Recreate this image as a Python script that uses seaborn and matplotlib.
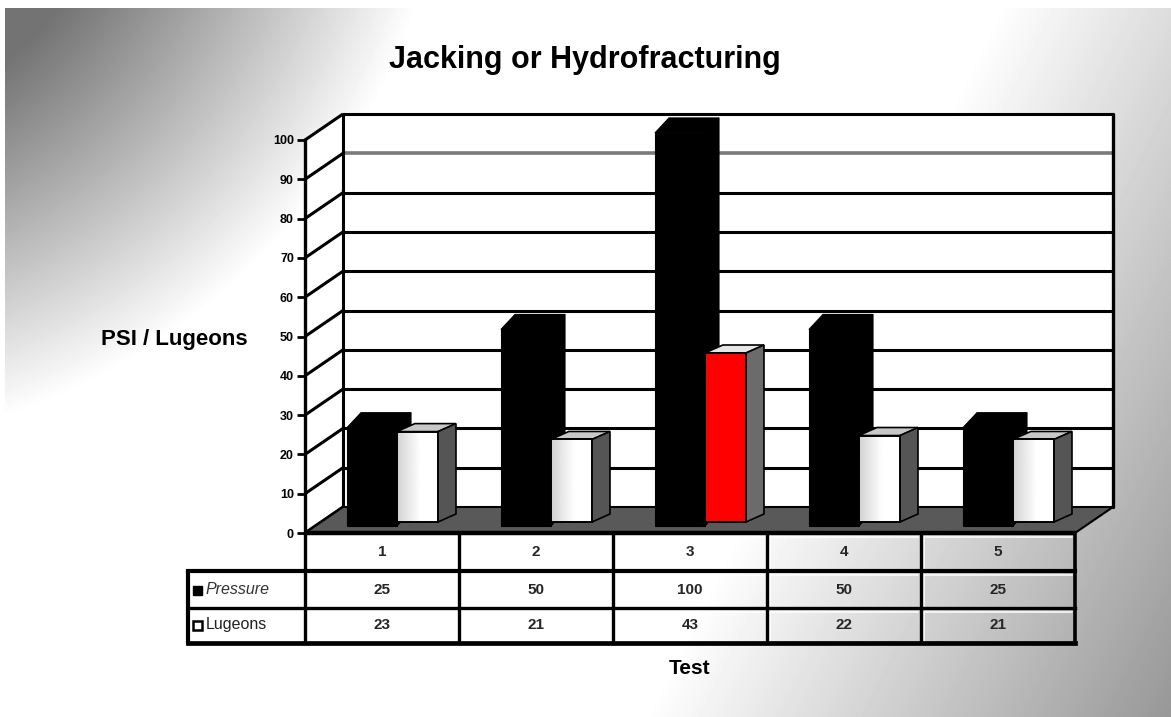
import numpy as np
import matplotlib
matplotlib.use("Agg")
import matplotlib.pyplot as plt
from matplotlib.patches import Polygon, Rectangle
import seaborn as sns

# ---- data -------------------------------------------------------------
categories = ["1", "2", "3", "4", "5"]
pressure = [25, 50, 100, 50, 25]
lugeons = [23, 21, 43, 22, 21]
series_names = ["Pressure", "Lugeons"]
y_ticks = [0, 10, 20, 30, 40, 50, 60, 70, 80, 90, 100]
title_text = "Jacking or Hydrofracturing"
y_label = "PSI / Lugeons"
x_label = "Test"

# ---- canvas -----------------------------------------------------------
W, H, DPI = 1171, 717, 100
sns.set_style("white")
plt.rcParams["font.family"] = ["Liberation Sans", "DejaVu Sans"]

fig = plt.figure(figsize=(W / DPI, H / DPI), dpi=DPI)

# grey sheen: dark toward the upper-left corner and the right edge, white between
bg = fig.add_axes([0, 0, 1, 1], zorder=-10)
yy, xx = np.mgrid[0:H, 0:W].astype(float)
d_tl = np.hypot(xx + 200, yy + 200)
s_tl = np.clip((650 - d_tl) / 320, 0, 1)
shade_tl = 1 - 0.55 * s_tl
u_r = xx + 0.5 * yy
shade_r = np.clip(1 - 0.00077 * np.clip(u_r - 1000, 0, None), 0.55, 1)
shade = np.minimum(shade_tl, shade_r)
shade[:8, :] = 1
shade[:, :5] = 1
bg.imshow(shade, cmap="gray", vmin=0, vmax=1, extent=(0, W, H, 0),
          aspect="auto", interpolation="bilinear")
bg.set_xlim(0, W)
bg.set_ylim(H, 0)
bg.axis("off")

# ---- plot frame (front plane of the 3-D box) ---------------------------
AX_L, AX_R, AX_T, AX_B = 305, 1075, 140, 533
PX_X = (AX_R - AX_L) / len(categories)   # pixels per category
PX_Y = (AX_B - AX_T) / 100.0             # pixels per value unit
ax = fig.add_axes([AX_L / W, 1 - AX_B / H, (AX_R - AX_L) / W, (AX_B - AX_T) / H])
ax.set_facecolor("none")

DX = 38 / PX_X   # depth offset of the back wall
DY = 26 / PX_Y
x0, x1 = -0.5, len(categories) - 0.5

# walls
ax.add_patch(Polygon([(x0 + DX, DY), (x1 + DX, DY), (x1 + DX, 100 + DY), (x0 + DX, 100 + DY)],
                     closed=True, fc="white", ec="none", zorder=0.2, clip_on=False))
ax.add_patch(Polygon([(x0, 0), (x0 + DX, DY), (x0 + DX, 100 + DY), (x0, 100)],
                     closed=True, fc="white", ec="none", zorder=0.2, clip_on=False))

# gridlines on the back wall and slanted ticks on the side wall
for v in y_ticks:
    ax.plot([x0, x0 + DX], [v, v + DY], color="black", lw=2.2, zorder=0.6,
            clip_on=False, solid_capstyle="butt")
    if v > 0:
        ax.plot([x0 + DX, x1 + DX], [v + DY, v + DY],
                color="#7a7a7a" if v == 90 else "black",
                lw=2.6 if v == 90 else 2.2, zorder=0.5, clip_on=False,
                solid_capstyle="butt")
ax.plot([x0 + DX, x0 + DX], [DY, 100 + DY], color="black", lw=2.2, zorder=0.6, clip_on=False)
ax.plot([x1 + DX, x1 + DX], [DY, 100 + DY], color="black", lw=2.4, zorder=0.6, clip_on=False)

# floor
ax.add_patch(Polygon([(x0, 0), (x1, 0), (x1 + DX, DY), (x0 + DX, DY)], closed=True,
                     fc="#595959", ec="black", lw=1.5, zorder=0.8, clip_on=False))
ax.plot([x0, x1], [0, 0], color="black", lw=3.2, zorder=6, clip_on=False,
        solid_capstyle="butt")


def add_depth(patch, dx, dy, top_c, side_c, z, lw=1.2):
    xa, w = patch.get_x(), patch.get_width()
    yb, h = patch.get_y(), patch.get_height()
    xb, yt = xa + w, yb + h
    ax.add_patch(Polygon([(xa, yt), (xa + dx, yt + dy), (xb + dx, yt + dy), (xb, yt)],
                         closed=True, fc=top_c, ec="black", lw=lw, zorder=z, clip_on=False))
    ax.add_patch(Polygon([(xb, yb), (xb + dx, yb + dy), (xb + dx, yt + dy), (xb, yt)],
                         closed=True, fc=side_c, ec="black", lw=lw, zorder=z, clip_on=False))


# Pressure columns (solid black)
n0 = len(ax.patches)
sns.barplot(x=categories, y=pressure, color="black", saturation=1, width=0.325,
            errorbar=None, ax=ax, zorder=3, edgecolor="black", linewidth=0.8)
p_bars = ax.patches[n0:]
for p in p_bars:
    p.set_x(p.get_x() - 0.065)
    p.set_y(1.8)
    p.set_edgecolor("black")
    p.set_clip_on(False)
    add_depth(p, 14 / PX_X, 15 / PX_Y, "black", "black", 2.9, lw=0.8)

# Lugeons columns (pale boxes, test 3 highlighted in red)
n1 = len(ax.patches)
sns.barplot(x=categories, y=lugeons, color="white", saturation=1, width=0.267,
            errorbar=None, ax=ax, zorder=4, edgecolor="black", linewidth=1.4)
l_bars = [p for p in ax.patches[n1:] if isinstance(p, Rectangle)]
ramp = np.linspace(0.72, 1.0, 40) ** 0.6
ramp = np.clip(np.concatenate([ramp, np.ones(30)]), 0, 1)[None, :]
for i, p in enumerate(l_bars):
    p.set_x(p.get_x() + 0.23)
    p.set_y(2.8)
    p.set_edgecolor("black")
    p.set_linewidth(1.4)
    p.set_clip_on(False)
    xa, w, yb, h = p.get_x(), p.get_width(), p.get_y(), p.get_height()
    if i == 2:
        p.set_facecolor("#ff0000")
        add_depth(p, 18 / PX_X, 8 / PX_Y, "#e6e6e6", "#6b6b6b", 3.9)
    else:
        im = ax.imshow(ramp, cmap="gray", vmin=0, vmax=1, aspect="auto",
                       extent=(xa, xa + w, yb, yb + h), zorder=4.05,
                       interpolation="bilinear")
        im.set_clip_path(p)
        ax.add_patch(Rectangle((xa, yb), w, h, fill=False, ec="black", lw=1.4,
                               zorder=4.1, clip_on=False))
        add_depth(p, 18 / PX_X, 8 / PX_Y, "#c8c8c8", "#555555", 3.9)

ax.set_xlim(x0, x1)
ax.set_ylim(0, 100)
ax.set_xlabel("")
ax.set_yticks(y_ticks)
ax.set_yticklabels([str(v) for v in y_ticks], fontweight="bold", fontsize=9)
ax.tick_params(axis="y", length=6, width=2, pad=2, direction="out", colors="black",
               left=True)
ax.tick_params(axis="x", length=0, labelbottom=False)
for s in ["top", "right", "bottom"]:
    ax.spines[s].set_visible(False)
ax.spines["left"].set_visible(True)
ax.spines["left"].set_color("black")
ax.spines["left"].set_linewidth(2.4)
ax.spines["left"].set_bounds(0, 100)
ax.set_ylabel(y_label, rotation=0, fontsize=16, fontweight="bold", ha="right",
              va="center", color="black")
ax.yaxis.set_label_coords((248 - AX_L) / (AX_R - AX_L), (AX_B - 340) / (AX_B - AX_T))

fig.text(585 / W, 1 - 60 / H, title_text, ha="center", va="center",
         fontsize=22, fontweight="bold", color="black")

# ---- data table under the plot ----------------------------------------
T_BOT = 645
axt = fig.add_axes([AX_L / W, 1 - T_BOT / H, (AX_R - AX_L) / W, (T_BOT - AX_B) / H])
axt.set_facecolor("none")
axt.set_xlim(x0, x1)
axt.set_ylim(T_BOT, AX_B)   # rows measured in pixels from the top
axt.set_xticks([])
axt.set_yticks([])
for s in axt.spines.values():
    s.set_visible(False)


def col(px):
    return x0 + (px - AX_L) / PX_X


xl = col(188)
row_cat, row_p, row_l = 552, 590, 625
# cell highlights
for i in range(len(categories)):
    for top, bot in [(536, 569), (574, 606), (611, 641)]:
        axt.plot([i - 0.5 + 0.02, i + 0.5 - 0.02], [top + 1, top + 1], color="white",
                 lw=1.2, alpha=0.9, zorder=1)
        axt.plot([i - 0.5 + 0.02, i - 0.5 + 0.02], [top + 1, bot], color="white",
                 lw=1.2, alpha=0.9, zorder=1)
# rules
for yv, lw in [(571, 3.0), (608, 2.4), (643, 3.4)]:
    axt.plot([xl, x1], [yv, yv], color="black", lw=lw, clip_on=False, zorder=3,
             solid_capstyle="projecting")
axt.plot([xl, xl], [571, 643], color="black", lw=3.0, clip_on=False, zorder=3)
axt.plot([x0, x0], [AX_B, 643], color="black", lw=2.4, clip_on=False, zorder=3)
for i in range(len(categories) - 1):
    axt.plot([i + 0.5, i + 0.5], [AX_B, 643], color="black", lw=2.4, clip_on=False, zorder=3)
axt.plot([x1, x1], [AX_B, 643], color="black", lw=2.6, clip_on=False, zorder=3)

for i, c in enumerate(categories):
    axt.text(i, row_cat, c, ha="center", va="center", fontsize=11, fontweight="bold")
    axt.text(i, row_p, str(pressure[i]), ha="center", va="center", fontsize=11,
             fontweight="bold")
    axt.text(i, row_l, str(lugeons[i]), ha="center", va="center", fontsize=11,
             fontweight="bold")

sq = 9 / PX_X
axt.add_patch(Rectangle((col(193), row_p + 4.5), sq, -9, fc="black", ec="black", lw=1,
                        clip_on=False, zorder=4))
axt.add_patch(Rectangle((col(193), row_l + 4.5), sq, -9, fc="white", ec="black", lw=1.8,
                        clip_on=False, zorder=4))
axt.text(col(206), row_p, series_names[0], ha="left", va="center", fontsize=11.5,
         style="italic", color="#333333", clip_on=False)
axt.text(col(206), row_l, series_names[1], ha="left", va="center", fontsize=11.5,
         color="#222222", clip_on=False)

axt.set_xlabel(x_label, fontsize=15, fontweight="bold", labelpad=10, color="black")

fig.savefig("out.png", dpi=DPI)
